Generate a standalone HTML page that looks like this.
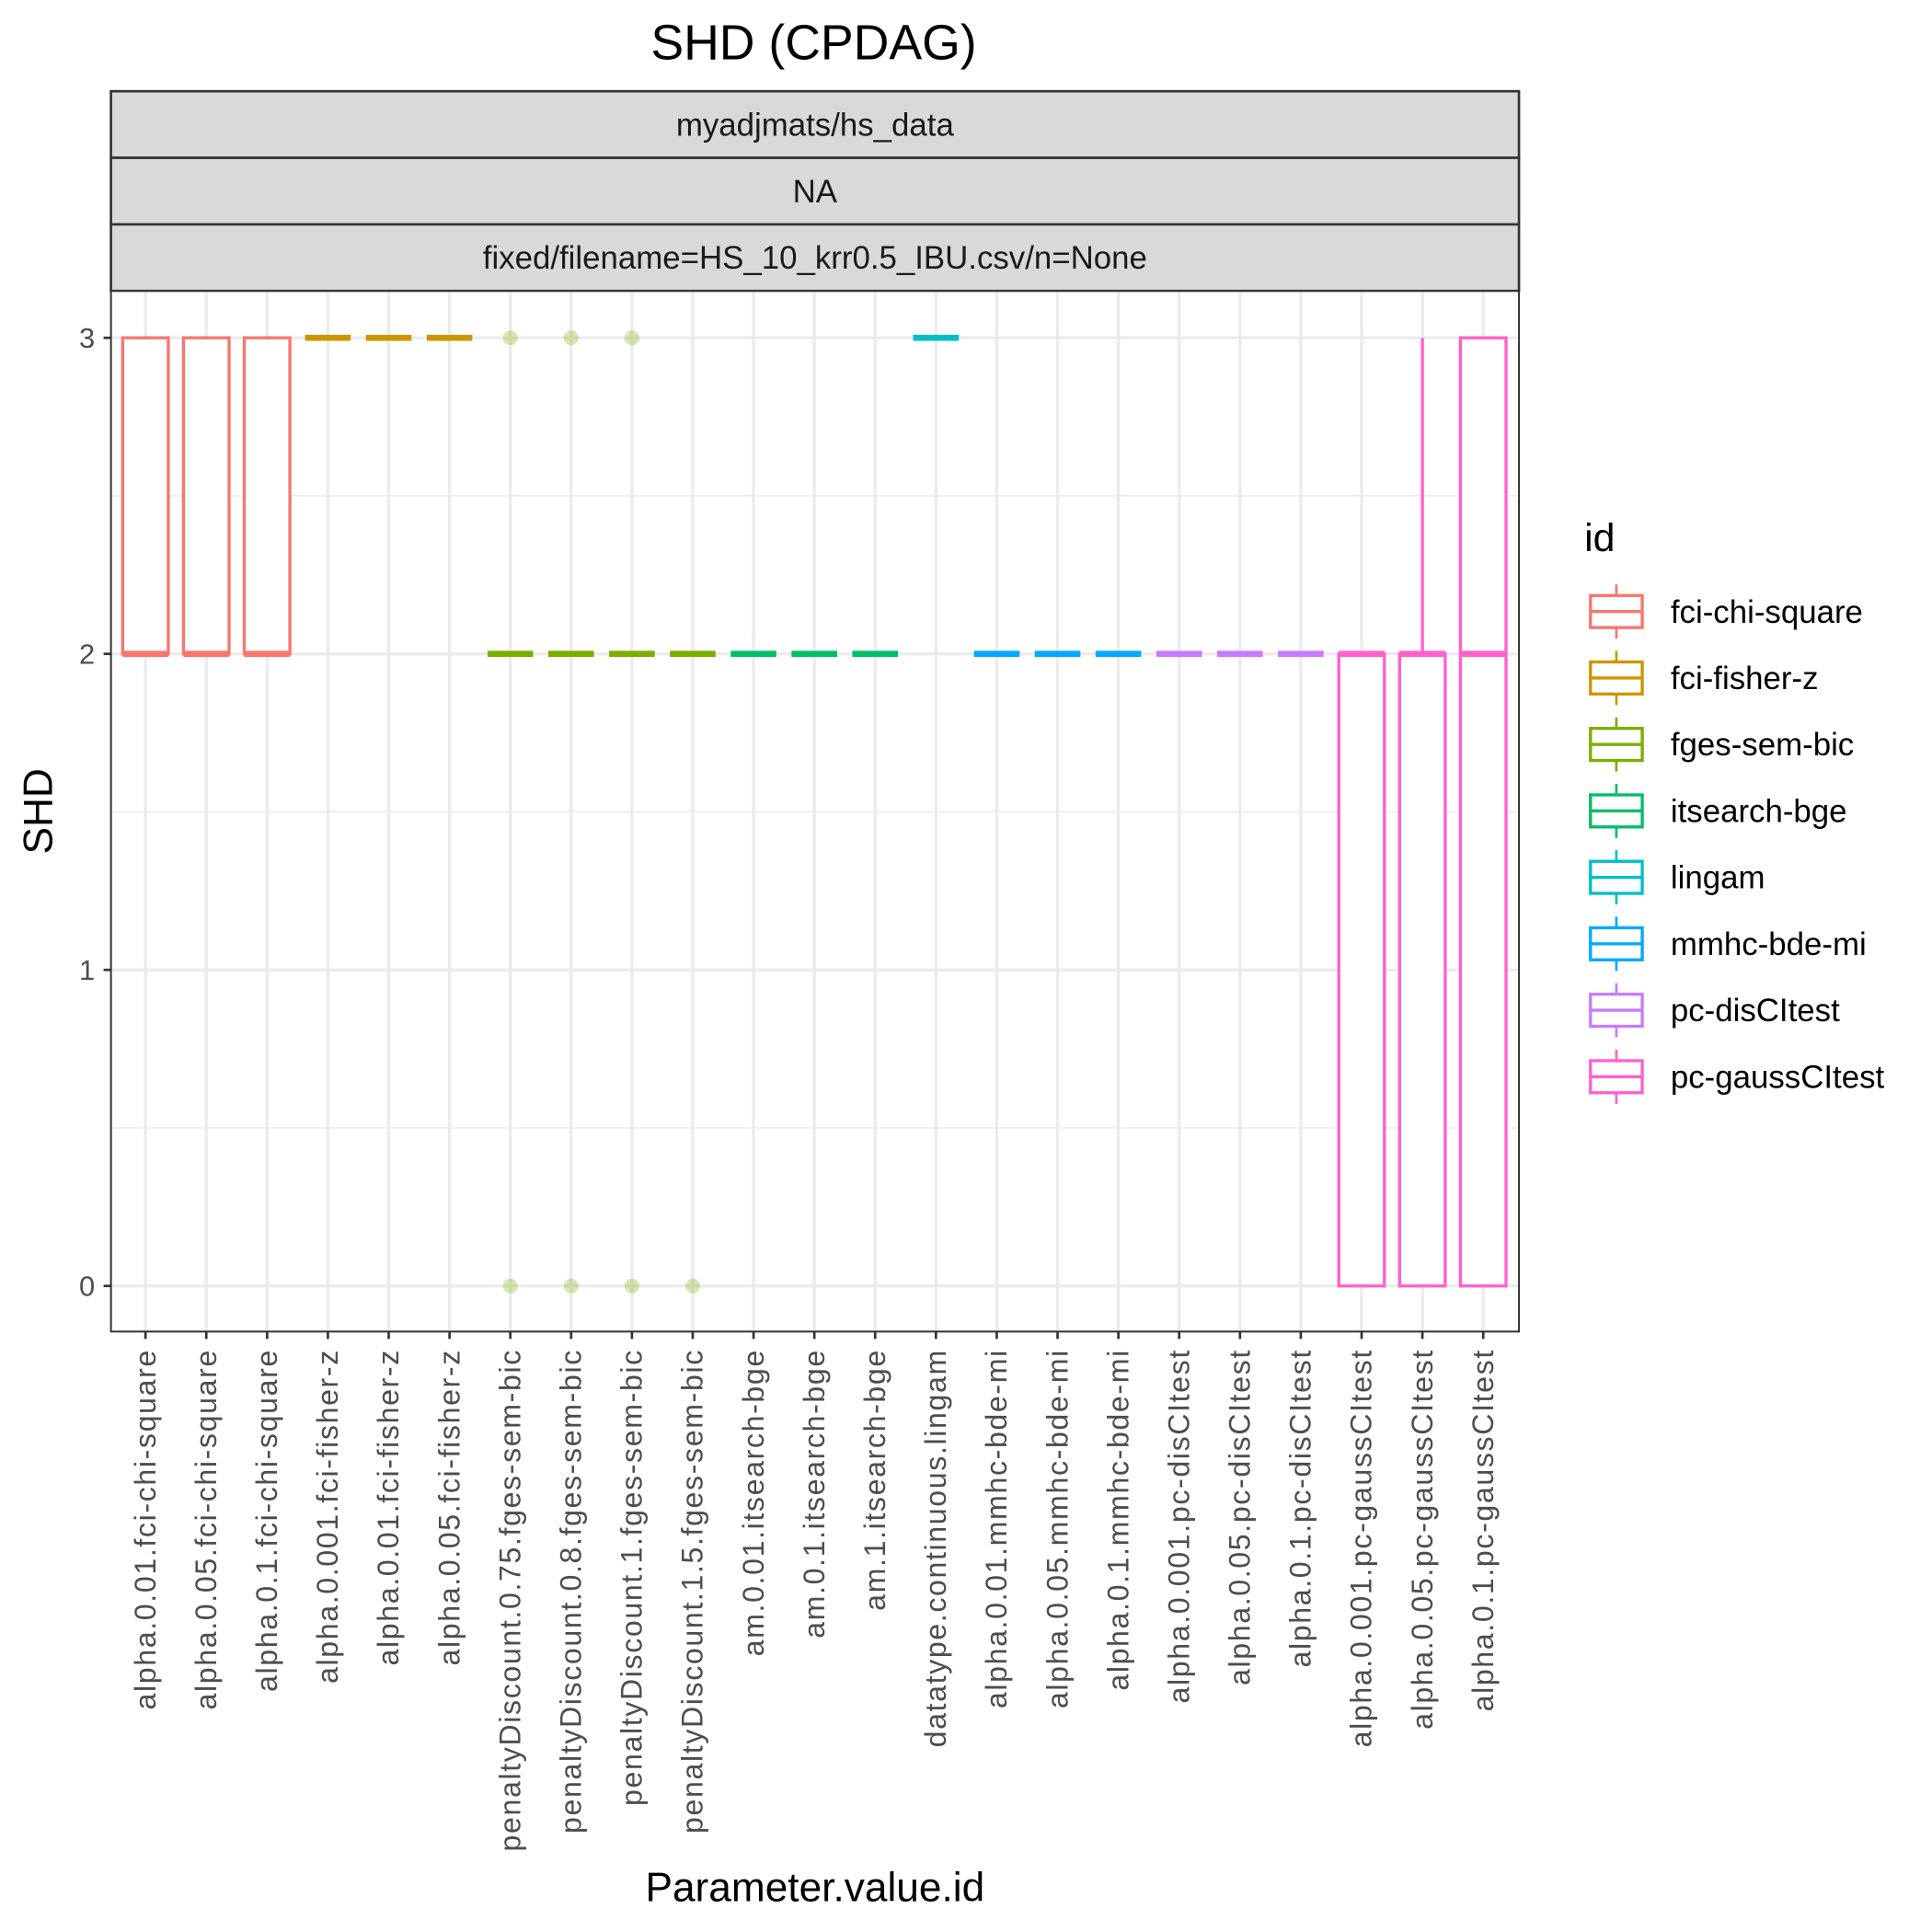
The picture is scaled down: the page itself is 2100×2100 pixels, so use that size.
<!DOCTYPE html>
<html><head><meta charset="utf-8"><style>html,body{margin:0;padding:0;background:#fff}svg{display:block}text{font-family:"Liberation Sans",Arial,sans-serif}</style></head>
<body>
<svg id="chart" width="2100" height="2100" viewBox="0 0 1567 1567" xmlns="http://www.w3.org/2000/svg">
<rect width="1567" height="1567" fill="#fff"/>
<text x="660" y="48" font-size="40" text-anchor="middle">SHD (CPDAG)</text>
<g>
<rect x="90" y="74" width="1142" height="54" fill="#D9D9D9" stroke="#333" stroke-width="2"/>
<rect x="90" y="128" width="1142" height="54" fill="#D9D9D9" stroke="#333" stroke-width="2"/>
<rect x="90" y="182" width="1142" height="54" fill="#D9D9D9" stroke="#333" stroke-width="2"/>
<text x="661" y="110" font-size="26" text-anchor="middle" fill="#1A1A1A">myadjmats/hs_data</text>
<text x="661" y="164" font-size="26" text-anchor="middle" fill="#1A1A1A">NA</text>
<text x="661" y="218" font-size="26" text-anchor="middle" fill="#1A1A1A">fixed/filename=HS_10_krr0.5_IBU.csv/n=None</text>
</g>
<g id="grid"></g>
<g id="marks"></g>
<rect x="90" y="236" width="1142" height="844" fill="none" stroke="#333" stroke-width="1.5"/>
<g id="axes"></g>
<text x="661" y="1542" font-size="33" text-anchor="middle">Parameter.value.id</text>
<text x="0" y="0" font-size="33" text-anchor="middle" transform="translate(42,658) rotate(-90)">SHD</text>
<g id="legend">
<text x="1285" y="447" font-size="32">id</text>
</g>
</svg>
<script>
const categories=["alpha.0.01.fci-chi-square","alpha.0.05.fci-chi-square","alpha.0.1.fci-chi-square","alpha.0.001.fci-fisher-z","alpha.0.01.fci-fisher-z","alpha.0.05.fci-fisher-z","penaltyDiscount.0.75.fges-sem-bic","penaltyDiscount.0.8.fges-sem-bic","penaltyDiscount.1.fges-sem-bic","penaltyDiscount.1.5.fges-sem-bic","am.0.01.itsearch-bge","am.0.1.itsearch-bge","am.1.itsearch-bge","datatype.continuous.lingam","alpha.0.01.mmhc-bde-mi","alpha.0.05.mmhc-bde-mi","alpha.0.1.mmhc-bde-mi","alpha.0.001.pc-disCItest","alpha.0.05.pc-disCItest","alpha.0.1.pc-disCItest","alpha.0.001.pc-gaussCItest","alpha.0.05.pc-gaussCItest","alpha.0.1.pc-gaussCItest"];
const groupOf=[0,0,0,1,1,1,2,2,2,2,3,3,3,4,5,5,5,6,6,6,7,7,7];
const mins=[2,2,2,3,3,3,2,2,2,2,2,2,2,3,2,2,2,2,2,2,0,0,0];
const q1s=[2,2,2,3,3,3,2,2,2,2,2,2,2,3,2,2,2,2,2,2,0,0,0];
const meds=[2,2,2,3,3,3,2,2,2,2,2,2,2,3,2,2,2,2,2,2,2,2,2];
const q3s=[3,3,3,3,3,3,2,2,2,2,2,2,2,3,2,2,2,2,2,2,2,2,3];
const maxs=[3,3,3,3,3,3,2,2,2,2,2,2,2,3,2,2,2,2,2,2,2,3,3];
const outliers=[[],[],[],[],[],[],[3,0],[3,0],[3,0],[0],[],[],[],[],[],[],[],[],[],[],[],[],[]];
const groups=["fci-chi-square","fci-fisher-z","fges-sem-bic","itsearch-bge","lingam","mmhc-bde-mi","pc-disCItest","pc-gaussCItest"];
const colors=["#F8766D","#CD9600","#7CAE00","#00BE67","#00BFC4","#00A9FF","#C77CFF","#FF61CC"];
const yTicks=[0,1,2,3];
const yMinor=[0.5,1.5,2.5];

const NS="http://www.w3.org/2000/svg";
const xS=i=>118+i*(1203-118)/(categories.length-1);
const yS=v=>1043-v*(1043-274)/3;
function mk(parent,tag,attrs){const e=document.createElementNS(NS,tag);for(const k in attrs)e.setAttribute(k,attrs[k]);parent.appendChild(e);return e;}
const grid=document.getElementById('grid'),marks=document.getElementById('marks'),axes=document.getElementById('axes'),legend=document.getElementById('legend');
mk(grid,'rect',{x:90,y:236,width:1142,height:844,fill:'#fff'});
yMinor.forEach(v=>{const l=mk(grid,'line',{x1:90,x2:1232,y1:yS(v),y2:yS(v),stroke:'#EBEBEB','stroke-width':1.2});

});
yTicks.forEach(v=>{const l=mk(grid,'line',{x1:90,x2:1232,y1:yS(v),y2:yS(v),stroke:'#EBEBEB','stroke-width':2.4});


const t=mk(axes,'line',{x1:84,x2:90,y1:yS(v),y2:yS(v),stroke:'#333','stroke-width':2});


const tx=mk(axes,'text',{x:77,y:yS(v)+8,'font-size':23,'text-anchor':'end',fill:'#4D4D4D'});tx.textContent=v;

});
const hw=18.5;
categories.forEach((c,i)=>{const x=xS(i),col=colors[groupOf[i]];
const g=mk(grid,'line',{x1:x,x2:x,y1:236,y2:1080,stroke:'#EBEBEB','stroke-width':2.4});


const t=mk(axes,'line',{x1:x,x2:x,y1:1080,y2:1086,stroke:'#333','stroke-width':2});


const tx=mk(axes,'text',{x:0,y:0,'font-size':24,'letter-spacing':1.2,'text-anchor':'end',fill:'#4D4D4D',transform:`translate(${x+8},1094) rotate(-90)`});tx.textContent=c;


const bx=mk(marks,'g',{});


if(maxs[i]>q3s[i])mk(bx,'line',{x1:x,x2:x,y1:yS(maxs[i]),y2:yS(q3s[i]),stroke:col,'stroke-width':2.5});
if(mins[i]<q1s[i])mk(bx,'line',{x1:x,x2:x,y1:yS(q1s[i]),y2:yS(mins[i]),stroke:col,'stroke-width':2.5});
mk(bx,'rect',{x:x-hw,y:yS(q3s[i]),width:2*hw,height:yS(q1s[i])-yS(q3s[i]),fill:'#fff',stroke:col,'stroke-width':2.5});
mk(bx,'line',{x1:x-hw,x2:x+hw,y1:yS(meds[i]),y2:yS(meds[i]),stroke:col,'stroke-width':5});
outliers[i].forEach(o=>{const p=mk(bx,'circle',{cx:x,cy:yS(o),r:6,fill:col,'fill-opacity':0.3});

});
});
groups.forEach((gname,k)=>{const cy=496+k*53.9,col=colors[k];
const e=mk(legend,'g',{});


mk(e,'line',{x1:1311,x2:1311,y1:cy-22,y2:cy+22,stroke:col,'stroke-width':2});
mk(e,'rect',{x:1290,y:cy-13,width:42,height:26,fill:'#fff',stroke:col,'stroke-width':2.5});
mk(e,'line',{x1:1290,x2:1332,y1:cy,y2:cy,stroke:col,'stroke-width':2.5});
const t=mk(e,'text',{x:1355,y:cy+9,'font-size':26,fill:'#000'});t.textContent=gname;});
</script>
</body></html>
